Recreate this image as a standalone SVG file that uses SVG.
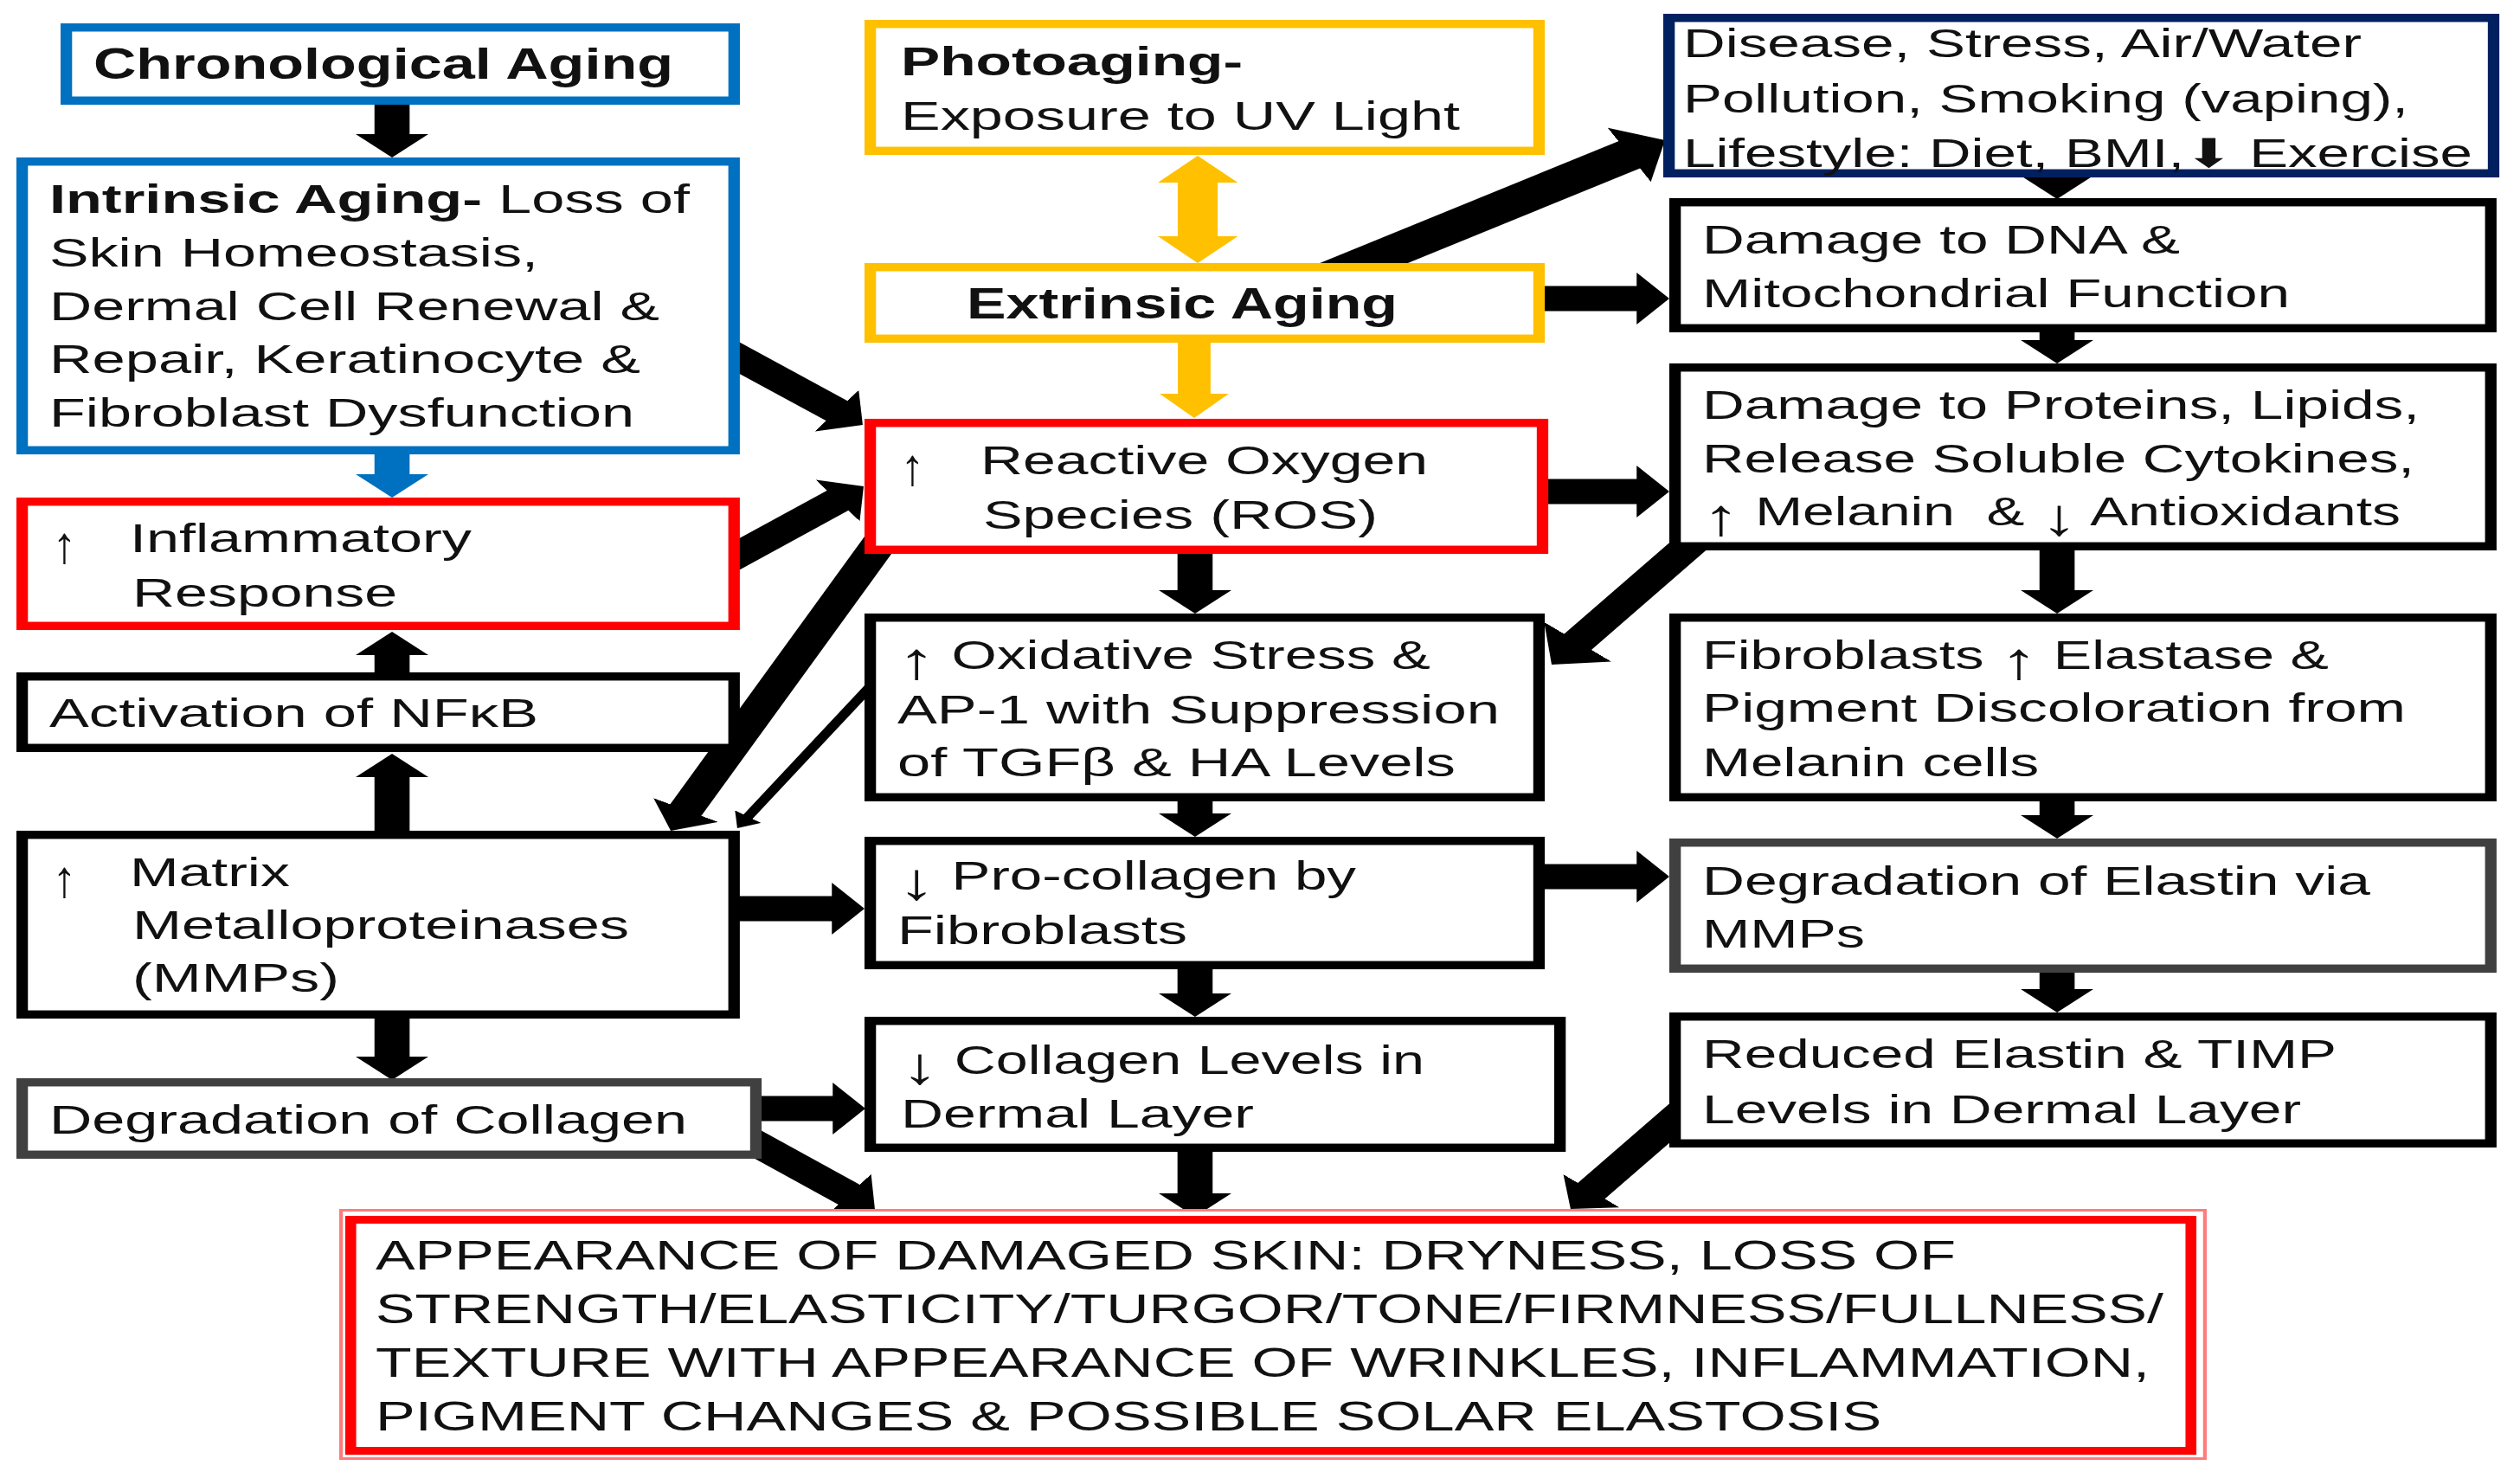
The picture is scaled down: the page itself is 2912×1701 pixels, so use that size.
<svg xmlns="http://www.w3.org/2000/svg" width="2912" height="1701" viewBox="0 0 2912 1701">
<style>
.t{font-family:"Liberation Sans",Arial,sans-serif;font-size:46px;fill:#111}
.b{font-weight:bold}
.ar{font-size:60px}
.box{fill:#fff;stroke-width:9.5}
.k{stroke:#000}.bl{stroke:#0070C0}.rd{stroke:#FF0000}.yl{stroke:#FFC000}.nv{stroke:#002060}.gy{stroke:#404040}
.c{stroke:#000;stroke-width:29;fill:none}
</style>
<defs>
<marker id="hb" markerUnits="userSpaceOnUse" markerWidth="27" markerHeight="60" viewBox="0 0 27 60" refX="1" refY="30" orient="auto"><path d="M0,0L27,30L0,60Z" fill="#000"/></marker>
<marker id="hblue" markerUnits="userSpaceOnUse" markerWidth="27" markerHeight="60" viewBox="0 0 27 60" refX="1" refY="30" orient="auto"><path d="M0,0L27,30L0,60Z" fill="#0070C0"/></marker>
<marker id="hbig" markerUnits="userSpaceOnUse" markerWidth="34" markerHeight="72" viewBox="0 0 34 72" refX="1" refY="36" orient="auto"><path d="M0,0L34,36L0,72Z" fill="#000"/></marker>
<marker id="hthin" markerUnits="userSpaceOnUse" markerWidth="16" markerHeight="26" viewBox="0 0 16 26" refX="1" refY="13" orient="auto"><path d="M0,0L16,13L0,26Z" fill="#000"/></marker>
<marker id="yb" markerUnits="userSpaceOnUse" markerWidth="31" markerHeight="66" viewBox="0 0 31 66" refX="1" refY="33" orient="auto-start-reverse"><path d="M0,0L31,33L0,66Z" fill="#FFC000"/></marker>
<marker id="ym" markerUnits="userSpaceOnUse" markerWidth="28" markerHeight="57" viewBox="0 0 28 57" refX="1" refY="28.5" orient="auto"><path d="M0,0L28,28.5L0,57Z" fill="#FFC000"/></marker>
</defs>
<rect width="2912" height="1701" fill="#fff"/>
<g transform="scale(1.4 1)">
<g id="connectors">
 <line class="c" x1="323.6" y1="110" x2="323.6" y2="156" marker-end="url(#hb)"/>
 <line class="c" x1="323.6" y1="515" x2="323.6" y2="549" style="stroke:#0070C0" marker-end="url(#hblue)"/>
 <line class="c" x1="323.6" y1="790" x2="323.6" y2="756" marker-end="url(#hb)"/>
 <line class="c" x1="323.6" y1="970" x2="323.6" y2="897" marker-end="url(#hb)"/>
 <line class="c" x1="323.6" y1="1165" x2="323.6" y2="1222" marker-end="url(#hb)"/>
 <line class="c" x1="988.6" y1="210" x2="988.6" y2="274" style="stroke:#FFC000;stroke-width:33" marker-start="url(#yb)" marker-end="url(#yb)"/>
 <line class="c" x1="985.7" y1="390" x2="985.7" y2="456" style="stroke:#FFC000;stroke-width:27" marker-end="url(#ym)"/>
 <line class="c" x1="1091" y1="323.8" x2="1345.6" y2="178.4" style="stroke-width:36" marker-end="url(#hbig)"/>
 <line class="c" x1="1264" y1="345" x2="1351.9" y2="345" marker-end="url(#hb)"/>
 <line class="c" x1="1270" y1="568" x2="1351.9" y2="568" marker-end="url(#hb)"/>
 <line class="c" x1="986.4" y1="630" x2="986.4" y2="683" marker-end="url(#hb)"/>
 <line class="c" x1="986.4" y1="915" x2="986.4" y2="941" marker-end="url(#hb)"/>
 <line class="c" x1="986.4" y1="1110" x2="986.4" y2="1149" marker-end="url(#hb)"/>
 <line class="c" x1="986.4" y1="1320" x2="986.4" y2="1380" marker-end="url(#hb)"/>
 <line class="c" x1="1270" y1="1013" x2="1351.9" y2="1013" marker-end="url(#hb)"/>
 <line class="c" x1="600" y1="1050" x2="687.6" y2="1050" marker-end="url(#hb)"/>
 <line class="c" x1="620" y1="1281" x2="688.3" y2="1281" marker-end="url(#hb)"/>
 <line class="c" x1="594.8" y1="401.9" x2="691.4" y2="475.3" marker-end="url(#hb)"/>
 <line class="c" x1="594.8" y1="652.1" x2="692.2" y2="577.8" marker-end="url(#hb)"/>
 <line class="c" x1="729.8" y1="620.2" x2="565.6" y2="936.9" marker-end="url(#hb)"/>
 <line class="c" x1="719.2" y1="791.7" x2="616.9" y2="944.5" style="stroke-width:9" marker-end="url(#hthin)"/>
 <line class="c" x1="1398.1" y1="625.4" x2="1301.7" y2="742.5" marker-end="url(#hbig)"/>
 <line class="c" x1="612.8" y1="1312.8" x2="701.5" y2="1381.1" marker-end="url(#hb)"/>
 <line class="c" x1="1390.6" y1="1282.6" x2="1312.9" y2="1376.9" marker-end="url(#hb)"/>
 <line class="c" x1="1697.9" y1="195" x2="1697.9" y2="204" marker-end="url(#hb)"/>
 <line class="c" x1="1697.9" y1="375" x2="1697.9" y2="394" marker-end="url(#hb)"/>
 <line class="c" x1="1697.9" y1="630" x2="1697.9" y2="683" marker-end="url(#hb)"/>
 <line class="c" x1="1697.9" y1="920" x2="1697.9" y2="943" marker-end="url(#hb)"/>
 <line class="c" x1="1697.9" y1="1118" x2="1697.9" y2="1144" marker-end="url(#hb)"/>
</g>
<g id="n-chrono"><rect class="box bl" x="54.75" y="31.75" width="551.2" height="84.5"/>
 <text class="t b" x="77.1" y="91" style="font-size:50px" textLength="478.6" lengthAdjust="spacingAndGlyphs">Chronological Aging</text></g>
<g id="n-intrinsic"><rect class="box bl" x="18.3" y="186.7" width="587.6" height="333.6"/>
 <text class="t" x="40.7" y="246" textLength="528.6" lengthAdjust="spacingAndGlyphs"><tspan class="b">Intrinsic Aging-</tspan> Loss of</text>
 <text class="t" x="40.7" y="308" textLength="403.6" lengthAdjust="spacingAndGlyphs">Skin Homeostasis,</text>
 <text class="t" x="40.7" y="370" textLength="503.6" lengthAdjust="spacingAndGlyphs">Dermal Cell Renewal &amp;</text>
 <text class="t" x="40.7" y="431" textLength="487.9" lengthAdjust="spacingAndGlyphs">Repair, Keratinocyte &amp;</text>
 <text class="t" x="40.7" y="493" textLength="482.9" lengthAdjust="spacingAndGlyphs">Fibroblast Dysfunction</text></g>
<g id="n-inflam"><rect class="box rd" x="18.3" y="579.7" width="587.6" height="143.6"/>
 <text class="t ar" x="43" y="650" textLength="20" lengthAdjust="spacingAndGlyphs">↑</text>
 <text class="t" x="107.1" y="638" textLength="282.1" lengthAdjust="spacingAndGlyphs">Inflammatory</text>
 <text class="t" x="109.3" y="701" textLength="218.6" lengthAdjust="spacingAndGlyphs">Response</text></g>
<g id="n-nfkb"><rect class="box k" x="18.3" y="781.7" width="587.6" height="82.6"/>
 <text class="t" x="40.7" y="840" textLength="403.6" lengthAdjust="spacingAndGlyphs">Activation of NFκB</text></g>
<g id="n-mmps"><rect class="box k" x="18.3" y="964.7" width="587.6" height="207.6"/>
 <text class="t ar" x="43" y="1036" textLength="20" lengthAdjust="spacingAndGlyphs">↑</text>
 <text class="t" x="107.1" y="1024" textLength="132.1" lengthAdjust="spacingAndGlyphs">Matrix</text>
 <text class="t" x="109.3" y="1085" textLength="410" lengthAdjust="spacingAndGlyphs">Metalloproteinases</text>
 <text class="t" x="109.3" y="1146" textLength="170.7" lengthAdjust="spacingAndGlyphs">(MMPs)</text></g>
<g id="n-degcoll"><rect class="box gy" x="18.3" y="1250.7" width="605.6" height="83.6"/>
 <text class="t" x="40.7" y="1310" textLength="526.4" lengthAdjust="spacingAndGlyphs">Degradation of Collagen</text></g>
<g id="n-appearance">
 <rect x="281.5" y="1398.5" width="1538.4" height="287" fill="#fff" stroke="#FF7C7C" stroke-width="3"/>
 <rect x="289.5" y="1409.5" width="1518.9" height="267" fill="#fff" stroke="#FF0000" stroke-width="9"/>
 <text class="t" x="310" y="1467" style="font-size:48px" textLength="1304.3" lengthAdjust="spacingAndGlyphs">APPEARANCE OF DAMAGED SKIN: DRYNESS, LOSS OF</text>
 <text class="t" x="310" y="1529" style="font-size:48px" textLength="1475.7" lengthAdjust="spacingAndGlyphs">STRENGTH/ELASTICITY/TURGOR/TONE/FIRMNESS/FULLNESS/</text>
 <text class="t" x="310" y="1591" style="font-size:48px" textLength="1464.3" lengthAdjust="spacingAndGlyphs">TEXTURE WITH APPEARANCE OF WRINKLES, INFLAMMATION,</text>
 <text class="t" x="310" y="1653" style="font-size:48px" textLength="1242.9" lengthAdjust="spacingAndGlyphs">PIGMENT CHANGES &amp; POSSIBLE SOLAR ELASTOSIS</text></g>
<g id="n-photo"><rect class="box yl" x="718.3" y="27.7" width="552" height="146.6"/>
 <text class="t b" x="743.6" y="87.5" style="font-size:47px" textLength="282.1" lengthAdjust="spacingAndGlyphs">Photoaging-</text>
 <text class="t" x="743.6" y="150" textLength="461.4" lengthAdjust="spacingAndGlyphs">Exposure to UV Light</text></g>
<g id="n-extrinsic"><rect class="box yl" x="718.3" y="308.7" width="552" height="82.6"/>
 <text class="t b" x="797.9" y="368" style="font-size:50px" textLength="355.7" lengthAdjust="spacingAndGlyphs">Extrinsic Aging</text></g>
<g id="n-ros"><rect class="box rd" x="718.3" y="488.7" width="554.9" height="146.6"/>
 <text class="t ar" x="743" y="560" textLength="20" lengthAdjust="spacingAndGlyphs">↑</text>
 <text class="t" x="809.3" y="548" textLength="369.3" lengthAdjust="spacingAndGlyphs">Reactive Oxygen</text>
 <text class="t" x="811.4" y="611" textLength="325.7" lengthAdjust="spacingAndGlyphs">Species (ROS)</text></g>
<g id="n-oxid"><rect class="box k" x="718.3" y="713.7" width="552" height="207.6"/>
 <text class="t" x="740.7" y="773" textLength="440" lengthAdjust="spacingAndGlyphs"><tspan class="ar" dy="11">↑</tspan><tspan dy="-11"> Oxidative Stress &amp;</tspan></text>
 <text class="t" x="740.7" y="836" textLength="497.1" lengthAdjust="spacingAndGlyphs">AP-1 with Suppression</text>
 <text class="t" x="740.7" y="897" textLength="460.7" lengthAdjust="spacingAndGlyphs">of TGFβ &amp; HA Levels</text></g>
<g id="n-procoll"><rect class="box k" x="718.3" y="971.7" width="552" height="143.6"/>
 <text class="t" x="740.7" y="1028" textLength="378.6" lengthAdjust="spacingAndGlyphs"><tspan class="ar" dy="11">↓</tspan><tspan dy="-11"> Pro-collagen by</tspan></text>
 <text class="t" x="740.7" y="1091" textLength="239.3" lengthAdjust="spacingAndGlyphs">Fibroblasts</text></g>
<g id="n-coll"><rect class="box k" x="718.3" y="1179.7" width="569.3" height="146.6"/>
 <text class="t" x="743.6" y="1241" textLength="432.1" lengthAdjust="spacingAndGlyphs"><tspan class="ar" dy="11">↓</tspan><tspan dy="-11"> Collagen Levels in</tspan></text>
 <text class="t" x="743.6" y="1303" textLength="291.4" lengthAdjust="spacingAndGlyphs">Dermal Layer</text></g>
<g id="n-disease"><rect class="box nv" x="1377.6" y="20.7" width="680.6" height="179.6"/>
 <text class="t" x="1389.3" y="66" textLength="560" lengthAdjust="spacingAndGlyphs">Disease, Stress, Air/Water</text>
 <text class="t" x="1389.3" y="130" textLength="598.6" lengthAdjust="spacingAndGlyphs">Pollution, Smoking (vaping),</text>
 <text class="t" x="1389.3" y="193" textLength="651.4" lengthAdjust="spacingAndGlyphs">Lifestyle: Diet, BMI,<tspan style="font-family:'DejaVu Sans',sans-serif">⬇</tspan> Exercise</text></g>
<g id="n-dna"><rect class="box k" x="1382.6" y="233.7" width="673.3" height="145.6"/>
 <text class="t" x="1405" y="293" textLength="394.3" lengthAdjust="spacingAndGlyphs">Damage to DNA &amp;</text>
 <text class="t" x="1405" y="355" textLength="485" lengthAdjust="spacingAndGlyphs">Mitochondrial Function</text></g>
<g id="n-proteins"><rect class="box k" x="1382.6" y="424.7" width="673.3" height="206.6"/>
 <text class="t" x="1405" y="484" textLength="592.1" lengthAdjust="spacingAndGlyphs">Damage to Proteins, Lipids,</text>
 <text class="t" x="1405" y="546" textLength="587.9" lengthAdjust="spacingAndGlyphs">Release Soluble Cytokines,</text>
 <text class="t" x="1405" y="607" textLength="576.4" lengthAdjust="spacingAndGlyphs" xml:space="preserve"><tspan class="ar" dy="11">↑</tspan><tspan dy="-11"> Melanin  &amp; </tspan><tspan class="ar" dy="11">↓</tspan><tspan dy="-11"> Antioxidants</tspan></text></g>
<g id="n-fibro"><rect class="box k" x="1382.6" y="713.7" width="673.3" height="207.6"/>
 <text class="t" x="1405" y="773" textLength="517.1" lengthAdjust="spacingAndGlyphs">Fibroblasts <tspan class="ar" dy="11">↑</tspan><tspan dy="-11"> Elastase &amp;</tspan></text>
 <text class="t" x="1405" y="834" textLength="580.7" lengthAdjust="spacingAndGlyphs">Pigment Discoloration from</text>
 <text class="t" x="1405" y="897" textLength="277.9" lengthAdjust="spacingAndGlyphs">Melanin cells</text></g>
<g id="n-elastin"><rect class="box gy" x="1382.6" y="973.7" width="673.3" height="145.6"/>
 <text class="t" x="1405" y="1034" textLength="551.4" lengthAdjust="spacingAndGlyphs">Degradation of Elastin via</text>
 <text class="t" x="1405" y="1095" textLength="134.3" lengthAdjust="spacingAndGlyphs">MMPs</text></g>
<g id="n-reduced"><rect class="box k" x="1382.6" y="1174.7" width="673.3" height="146.6"/>
 <text class="t" x="1405" y="1234" textLength="523.6" lengthAdjust="spacingAndGlyphs">Reduced Elastin &amp; TIMP</text>
 <text class="t" x="1405" y="1298" textLength="494.3" lengthAdjust="spacingAndGlyphs">Levels in Dermal Layer</text></g>
</g>
</svg>
